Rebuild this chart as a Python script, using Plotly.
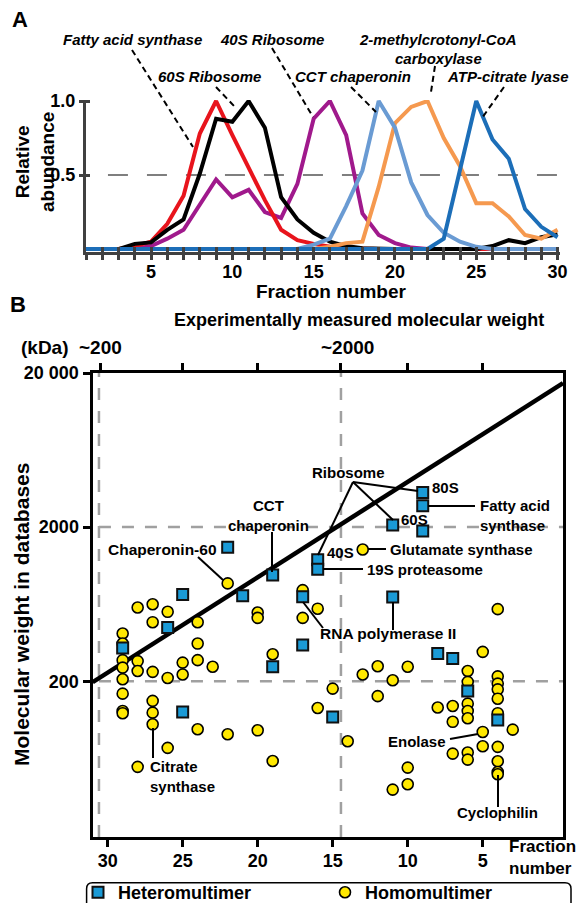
import plotly.graph_objects as go

# The page body has an 8px default margin, so the figure is drawn 8px in from the
# top-left corner; the layout below is expressed in screenshot pixels and converted.
OFF = 8
W, H = 584 - OFF, 903 - OFF
FONT = "Liberation Sans, Arial, sans-serif"

def px(x):
    return (x - OFF) / W

def py(y):
    return 1 - (y - OFF) / H

# ---------------- Panel A data ----------------
fraction_a = list(range(1, 31))
fas_black = [0, 0, 0, 0.035, 0.045, 0.13, 0.2, 0.51, 0.88, 0.86, 1.0, 0.82, 0.35, 0.2, 0.11,
             0.05, 0.02, 0.005, 0, 0, 0, 0, 0, 0, 0, 0.02, 0.06, 0.04, 0.08, 0.1]
ribo60_red = [0, 0, 0, 0.02, 0.05, 0.17, 0.36, 0.78, 1.0, 0.77, 0.55, 0.33, 0.13, 0.06, 0.035,
              0.015, 0.005, 0, 0, 0, 0, 0, 0, 0, 0, 0, 0, 0, 0, 0]
ribo40_purple = [0, 0, 0, 0, 0.02, 0.07, 0.13, 0.3, 0.47, 0.35, 0.4, 0.25, 0.21, 0.44, 0.88,
                 1.0, 0.77, 0.24, 0.095, 0.04, 0.01, 0, 0, 0, 0, 0, 0, 0, 0, 0]
cct_lightblue = [0, 0, 0, 0, 0, 0, 0, 0, 0, 0, 0, 0, 0, 0, 0.03,
                 0.07, 0.29, 0.53, 1.0, 0.82, 0.45, 0.23, 0.11, 0.05, 0.015, 0, 0, 0, 0, 0]
mcc_orange = [0, 0, 0, 0, 0, 0, 0, 0, 0, 0, 0, 0, 0, 0, 0,
              0.015, 0.04, 0.05, 0.42, 0.85, 0.96, 1.0, 0.75, 0.56, 0.31, 0.31, 0.22, 0.095, 0.07, 0.13]
acl_darkblue = [0, 0, 0, 0, 0, 0, 0, 0, 0, 0, 0, 0, 0, 0, 0,
                0, 0, 0, 0, 0, 0, 0, 0.07, 0.53, 1.0, 0.74, 0.61, 0.27, 0.15, 0.08]
half_line_x = [2.35, 30]
half_line_y = [0.5, 0.5]

# ---------------- Panel B data ----------------
hetero_fraction = [22, 19, 21, 25, 26, 16, 16, 17, 17, 29, 19, 9, 9, 11, 9, 11, 8, 7, 6, 4, 15, 25]
hetero_mw = [1480, 976, 716, 731, 446, 1230, 1067, 707, 343, 328, 248, 3360, 2750, 2060, 1884,
             705, 303, 281, 173, 112, 117, 126]

homo_fraction = [22, 28, 27, 26, 27, 24, 20, 20, 17, 16, 17, 29, 29, 24, 19, 29, 29, 29, 29, 29, 29,
                 28, 28, 27, 26, 25, 25, 24, 23, 15, 16, 27, 27, 27, 24, 22, 20, 26, 19, 28,
                 13, 4, 5, 6, 6, 4, 4, 4, 4, 4, 6, 6, 6, 7, 8, 7, 5, 3, 5, 4, 7, 6, 6, 4, 4, 4,
                 13, 12, 11, 10, 12, 14, 10, 10, 11]
homo_mw = [862, 602, 632, 564, 483, 483, 558, 515, 780, 591, 515, 408, 351, 351, 299, 274, 245, 206,
           166, 128, 124, 270, 233, 230, 210, 264, 221, 274, 248, 179, 134, 149, 125, 105, 97.5,
           90.5, 96, 73.8, 60.7, 55.6,
           1432, 587, 310, 233, 198, 215, 193, 177, 154, 124, 143, 128, 115, 138, 135, 109, 93.7,
           97, 75.7, 75, 67.8, 68.9, 62, 60.5, 51.5, 49.8,
           221, 250, 203, 248, 160, 81.5, 55, 42.9, 39.6]

diag_fraction = [31.0, -0.35]
diag_mw = [197, 17200]

ref_vert_fraction = [30.58, 14.45]
ref_horiz_mw = [2000, 200]
x2_range = [31.01, -0.35]
y2_range_log = [1.29, 4.301]
ya_range = [-0.02, 1.0068]

fig = go.Figure()

# ---- Panel A traces ----
fig.add_trace(go.Scatter(x=half_line_x, y=half_line_y, mode="lines", showlegend=False,
                         line=dict(color="#555555", width=1.5, dash="20px,19px"), hoverinfo="skip"))
series_a = [
    (ribo40_purple, "#A0198C"),
    (ribo60_red, "#E8141C"),
    (fas_black, "#000000"),
    (mcc_orange, "#F5994F"),
    (cct_lightblue, "#6A9BD3"),
    (acl_darkblue, "#1C6EB8"),
]
for vals, col in series_a:
    fig.add_trace(go.Scatter(x=fraction_a, y=vals, mode="lines", showlegend=False,
                             line=dict(color=col, width=4), xaxis="x", yaxis="y"))
# empty traces that activate the overlay axes used for the crossing tick marks
fig.add_trace(go.Scatter(x=[1], y=[None], xaxis="x4", yaxis="y", showlegend=False, mode="lines"))
fig.add_trace(go.Scatter(x=[1], y=[None], xaxis="x", yaxis="y5", showlegend=False, mode="lines"))

# ---- Panel B traces ----
for fx in ref_vert_fraction:
    fig.add_trace(go.Scatter(x=[fx, fx], y=[10 ** y2_range_log[0], 10 ** y2_range_log[1]],
                             mode="lines", showlegend=False, xaxis="x2", yaxis="y2",
                             line=dict(color="#A0A0A0", width=2.5, dash="12px,11px")))
for my in ref_horiz_mw:
    fig.add_trace(go.Scatter(x=[ref_vert_fraction[0], x2_range[1]], y=[my, my],
                             mode="lines", showlegend=False, xaxis="x2", yaxis="y2",
                             line=dict(color="#A0A0A0", width=2.5, dash="12px,11px")))
fig.add_trace(go.Scatter(x=diag_fraction, y=diag_mw, mode="lines", showlegend=False,
                         xaxis="x2", yaxis="y2", line=dict(color="black", width=4.5)))
fig.add_trace(go.Scatter(x=homo_fraction, y=homo_mw, mode="markers", name="<b>Homomultimer</b>",
                         xaxis="x2", yaxis="y2", legendrank=2, cliponaxis=False,
                         marker=dict(symbol="circle", size=11, color="#FFE800",
                                     line=dict(color="black", width=1.6))))
fig.add_trace(go.Scatter(x=hetero_fraction, y=hetero_mw, mode="markers", name="<b>Heteromultimer</b>",
                         xaxis="x2", yaxis="y2", legendrank=1, cliponaxis=False,
                         marker=dict(symbol="square", size=11, color="#1A9AD6",
                                     line=dict(color="#111111", width=2))))
fig.add_trace(go.Scatter(x=[10], y=[None], xaxis="x3", yaxis="y2", showlegend=False, mode="lines"))

AXC = "#404040"
tick_text_a = [str(f) if f % 5 == 0 else "" for f in fraction_a]

layout = dict(
    width=W, height=H,
    margin=dict(l=0, r=0, t=0, b=0, autoexpand=False),
    paper_bgcolor="white", plot_bgcolor="rgba(0,0,0,0)",
    font=dict(family=FONT, color="black"),
    xaxis=dict(domain=[px(86), px(560)], range=[1, 30.15], anchor="y",
               tickvals=fraction_a, ticktext=["<b>%s</b>" % t if t else "" for t in tick_text_a],
               ticks="outside", ticklen=5, tickwidth=3, tickcolor=AXC, ticklabelstandoff=-4,
               showline=True, linecolor=AXC, linewidth=3, showgrid=False, zeroline=False,
               tickfont=dict(size=18, family=FONT, color="black")),
    xaxis4=dict(overlaying="x", matches="x", anchor="y", range=[1, 30.15],
                tickvals=fraction_a, ticks="inside", ticklen=5, tickwidth=3, tickcolor=AXC,
                showticklabels=False, showline=False, showgrid=False, zeroline=False),
    yaxis=dict(domain=[py(252), py(100)], range=ya_range, anchor="x",
               tickvals=[0.5, 1.0], ticktext=["<b>0.5</b>", "<b>1.0</b>"],
               ticks="outside", ticklen=4, tickwidth=3, tickcolor=AXC,
               showline=True, linecolor=AXC, linewidth=3, showgrid=False, zeroline=False,
               tickfont=dict(size=18, family=FONT, color="black")),
    yaxis5=dict(overlaying="y", anchor="x", range=ya_range, tickvals=[0.5, 1.0],
                ticks="inside", ticklen=4, tickwidth=3, tickcolor=AXC,
                showticklabels=False, showline=False, showgrid=False, zeroline=False),
    xaxis2=dict(domain=[px(92.5), px(563)], range=x2_range, anchor="y2",
                tickvals=[30, 25, 20, 15, 10, 5],
                ticktext=["<b>%d</b>" % v for v in [30, 25, 20, 15, 10, 5]],
                ticks="outside", ticklen=7, tickwidth=2.5, tickcolor="black", ticklabelstandoff=-2,
                showline=True, linecolor="black", linewidth=3, showgrid=False, zeroline=False,
                tickfont=dict(size=18, family=FONT, color="black")),
    xaxis3=dict(overlaying="x2", side="top", anchor="y2", range=x2_range,
                tickvals=[30.5, 25, 20, 14.5, 10, 5], ticks="outside", ticklen=7, tickwidth=2.5,
                tickcolor="black", showticklabels=False, showline=True, linecolor="black",
                linewidth=3, showgrid=False, zeroline=False),
    yaxis2=dict(domain=[py(837), py(373)], type="log", range=y2_range_log, anchor="x2",
                tickvals=[200, 2000, 20000],
                ticktext=["<b>200</b>", "<b>2000</b>", "<b>20 000</b>"],
                ticks="outside", ticklen=7, tickwidth=2.5, tickcolor="black",
                showline=True, mirror=True, linecolor="black", linewidth=3,
                showgrid=False, zeroline=False,
                tickfont=dict(size=18, family=FONT, color="black")),
    legend=dict(orientation="h", x=px(78), y=py(874), xanchor="left", yanchor="top",
                font=dict(size=18, family=FONT, color="black"), entrywidth=202,
                entrywidthmode="pixels", bgcolor="rgba(0,0,0,0)", borderwidth=0,
                itemsizing="trace"),
)
fig.update_layout(**layout)

ann = []

def text(x, y, s, size=15, xanchor="center", italic=False, angle=0, align="center"):
    body = "<b><i>%s</i></b>" % s if italic else "<b>%s</b>" % s
    ann.append(dict(x=px(x), y=py(y), xref="paper", yref="paper", text=body, showarrow=False,
                    xanchor=xanchor, yanchor="middle", textangle=angle, align=align,
                    font=dict(size=size, family=FONT, color="black")))

shapes = []

def seg(x0, y0, x1, y1, dash=None, width=2):
    line = dict(color="black", width=width)
    if dash:
        line["dash"] = dash
    shapes.append(dict(type="line", xref="paper", yref="paper", x0=px(x0), y0=py(y0),
                       x1=px(x1), y1=py(y1), line=line))

# Panel A texts
text(20, 20, "A", size=22)
text(132, 40, "Fatty acid synthase", italic=True)
text(272, 40, "40S Ribosome", italic=True)
text(438, 40, "2-methylcrotonyl-CoA", italic=True)
text(438, 58, "carboxylase", italic=True)
text(209, 76, "60S Ribosome", italic=True)
text(353, 76, "CCT chaperonin", italic=True)
text(508, 76, "ATP-citrate lyase", italic=True)
text(35, 162, "Relative<br>abundance", size=19, angle=-90)
text(331, 291, "Fraction number", size=19)
for (a, b, c, d) in [(132, 50, 193, 147), (216, 87, 235, 107), (272, 48, 313, 117),
                     (351, 87, 376, 112), (435, 66, 431, 92), (504, 87, 482, 118)]:
    seg(a, b, c, d, dash="6px,4px", width=2)

# Panel B texts
text(18, 305, "B", size=22)
text(359, 320, "Experimentally measured molecular weight", size=18)
text(45, 347, "(kDa)", size=19)
text(100, 347, "~200", size=19)
text(347, 347, "~2000", size=19)
text(21, 615, "Molecular weight in databases", size=21, angle=-90)
text(507, 857, "Fraction<br>number", size=17, xanchor="left", align="left")

text(348, 472, "Ribosome")
text(430, 487, "80S", xanchor="left")
text(399, 519, "60S", xanchor="left")
text(325, 552, "40S", xanchor="left")
text(478, 515, "Fatty acid<br>synthase", xanchor="left", align="left")
text(388, 549, "Glutamate synthase", xanchor="left")
text(365, 569, "19S proteasome", xanchor="left")
text(268, 515, "CCT<br>chaperonin")
text(162, 549, "Chaperonin-60", size=15.5)
text(388, 633, "RNA polymerase II", size=15.5)
text(148, 776, "Citrate<br>synthase", xanchor="left", align="left")
text(417, 741, "Enolase")
text(497, 812, "Cyclophilin")

for (a, b, c, d) in [(353, 482, 418, 491), (353, 482, 393, 520), (353, 482, 318, 555),
                     (428, 506, 475, 506), (368, 549, 386, 549), (323, 569, 363, 569),
                     (272, 532, 272, 572), (198, 557, 223, 580), (303, 602, 323, 628),
                     (393, 602, 393, 630), (153, 728, 153, 758), (450, 739, 478, 734),
                     (498, 775, 498, 807)]:
    seg(a, b, c, d, width=2)

# Legend rounded box
x0, x1, yt, yb, r = 86.6, 571, 882.7, 915, 6
path = ("M %f,%f L %f,%f Q %f,%f %f,%f L %f,%f Q %f,%f %f,%f L %f,%f" % (
    px(x0), py(yb), px(x0), py(yt + r), px(x0), py(yt), px(x0 + r), py(yt),
    px(x1 - r), py(yt), px(x1), py(yt), px(x1), py(yt + r), px(x1), py(yb)))
shapes.append(dict(type="path", xref="paper", yref="paper", path=path,
                   line=dict(color="black", width=1.5)))

fig.update_layout(annotations=ann, shapes=shapes)
fig.write_html("out.html")
